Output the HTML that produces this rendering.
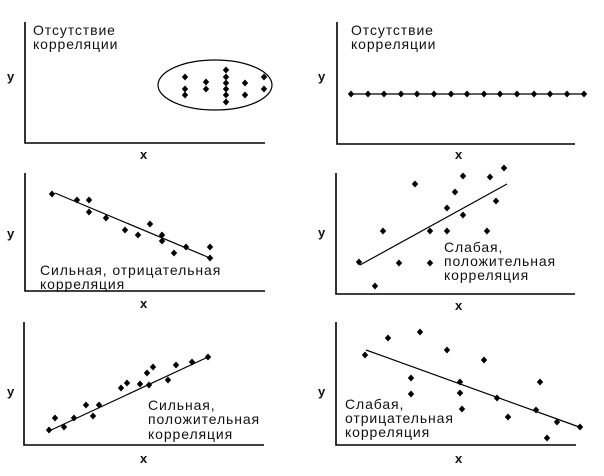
<!DOCTYPE html>
<html><head><meta charset="utf-8"><style>
html,body{margin:0;padding:0;background:#fff;}
svg{display:block;}
text{font-family:"Liberation Sans","DejaVu Sans",sans-serif;fill:#111;}
.t{font-size:14px;letter-spacing:0.9px;}
.l{font-size:13px;font-weight:bold;}
</style></head><body>
<svg width="604" height="476" viewBox="0 0 604 476" xmlns="http://www.w3.org/2000/svg">
<defs><path id="d" d="M0,-3.5 L3.2,0 L0,3.5 L-3.2,0Z" fill="#000"/></defs>
<g stroke="#000" stroke-width="1.6" fill="none">
<polyline points="25,22 25,143 265,143"/>
<polyline points="337,22 337,144 575,144"/>
<polyline points="25,173 25,291 265,291"/>
<polyline points="336,173 336,294 575,294"/>
<polyline points="24,322 24,445 264,445"/>
<polyline points="336,322 336,445 576,445"/>
</g>
<g stroke="#000" stroke-width="1.2" fill="none">
<ellipse cx="215" cy="85" rx="57" ry="25"/>
<line x1="351" y1="94" x2="584" y2="94"/>
<line x1="55" y1="193" x2="210" y2="258"/>
<line x1="360" y1="265" x2="507" y2="184"/>
<line x1="49" y1="431" x2="208" y2="357"/>
<line x1="366" y1="350" x2="582" y2="428"/>
</g>
<g>
<use href="#d" x="185" y="77"/><use href="#d" x="185" y="89"/><use href="#d" x="185" y="95"/>
<use href="#d" x="206" y="82"/><use href="#d" x="206" y="89"/>
<use href="#d" x="226" y="70"/><use href="#d" x="226" y="77"/><use href="#d" x="226" y="83"/><use href="#d" x="226" y="89"/><use href="#d" x="226" y="95"/><use href="#d" x="226" y="102"/>
<use href="#d" x="245" y="83"/><use href="#d" x="245" y="95"/><use href="#d" x="264" y="77"/><use href="#d" x="264" y="89"/>

<use href="#d" x="351" y="94"/><use href="#d" x="368" y="94"/><use href="#d" x="384" y="94"/><use href="#d" x="401" y="94"/><use href="#d" x="417" y="94"/><use href="#d" x="434" y="94"/><use href="#d" x="451" y="94"/><use href="#d" x="467" y="94"/><use href="#d" x="484" y="94"/><use href="#d" x="500" y="94"/><use href="#d" x="517" y="94"/><use href="#d" x="534" y="94"/><use href="#d" x="550" y="94"/><use href="#d" x="567" y="94"/><use href="#d" x="584" y="94"/>

<use href="#d" x="52" y="194"/><use href="#d" x="77" y="200"/><use href="#d" x="89" y="200"/><use href="#d" x="89" y="212"/><use href="#d" x="106" y="218"/><use href="#d" x="125" y="230"/><use href="#d" x="138" y="235"/><use href="#d" x="150" y="224"/><use href="#d" x="162" y="235"/><use href="#d" x="162" y="241"/><use href="#d" x="174" y="253"/><use href="#d" x="186" y="247"/><use href="#d" x="210" y="247"/><use href="#d" x="210" y="258"/>

<use href="#d" x="359" y="262"/><use href="#d" x="375" y="286"/><use href="#d" x="383" y="231"/><use href="#d" x="399" y="263"/><use href="#d" x="415" y="184"/><use href="#d" x="430" y="231"/><use href="#d" x="430" y="263"/><use href="#d" x="447" y="208"/><use href="#d" x="447" y="231"/><use href="#d" x="455" y="192"/><use href="#d" x="463" y="215"/><use href="#d" x="463" y="176"/><use href="#d" x="487" y="231"/><use href="#d" x="490" y="177"/><use href="#d" x="496" y="201"/><use href="#d" x="504" y="168"/>

<use href="#d" x="49" y="430"/><use href="#d" x="55" y="418"/><use href="#d" x="64" y="427"/><use href="#d" x="74" y="418"/><use href="#d" x="86" y="405"/><use href="#d" x="93" y="416"/><use href="#d" x="99" y="405"/><use href="#d" x="121" y="388"/><use href="#d" x="127" y="383"/><use href="#d" x="140" y="384"/><use href="#d" x="147" y="373"/><use href="#d" x="149" y="385"/><use href="#d" x="153" y="367"/><use href="#d" x="168" y="380"/><use href="#d" x="176" y="365"/><use href="#d" x="192" y="362"/><use href="#d" x="208" y="357"/>

<use href="#d" x="365" y="355"/><use href="#d" x="388" y="338"/><use href="#d" x="420" y="332"/><use href="#d" x="447" y="350"/><use href="#d" x="484" y="360"/><use href="#d" x="411" y="378"/><use href="#d" x="411" y="394"/><use href="#d" x="460" y="382"/><use href="#d" x="460" y="393"/><use href="#d" x="497" y="398"/><use href="#d" x="508" y="417"/><use href="#d" x="462" y="409"/><use href="#d" x="540" y="382"/><use href="#d" x="536" y="410"/><use href="#d" x="557" y="422"/><use href="#d" x="547" y="438"/><use href="#d" x="580" y="427"/>
</g>
<text class="t" x="33" y="35">Отсутствие</text><text class="t" x="33" y="49">корреляции</text>
<text class="t" x="351" y="35">Отсутствие</text><text class="t" x="351" y="49">корреляции</text>
<text class="t" x="40" y="275">Сильная, отрицательная</text><text class="t" x="40" y="289">корреляция</text>
<text class="t" x="444" y="252">Слабая,</text><text class="t" x="444" y="266">положительная</text><text class="t" x="444" y="280">корреляция</text>
<text class="t" x="148" y="410">Сильная,</text><text class="t" x="148" y="424">положительная</text><text class="t" x="148" y="439">корреляция</text>
<text class="t" x="345" y="409">Слабая,</text><text class="t" x="345" y="423">отрицательная</text><text class="t" x="345" y="437">корреляция</text>
<text class="l" x="7" y="81">y</text><text class="l" x="140" y="159">x</text>
<text class="l" x="318" y="81">y</text><text class="l" x="455" y="159">x</text>
<text class="l" x="7" y="238">y</text><text class="l" x="140" y="308">x</text>
<text class="l" x="318" y="237">y</text><text class="l" x="455" y="310">x</text>
<text class="l" x="7" y="396">y</text><text class="l" x="140" y="463">x</text>
<text class="l" x="318" y="396">y</text><text class="l" x="455" y="463">x</text>
</svg>
</body></html>
